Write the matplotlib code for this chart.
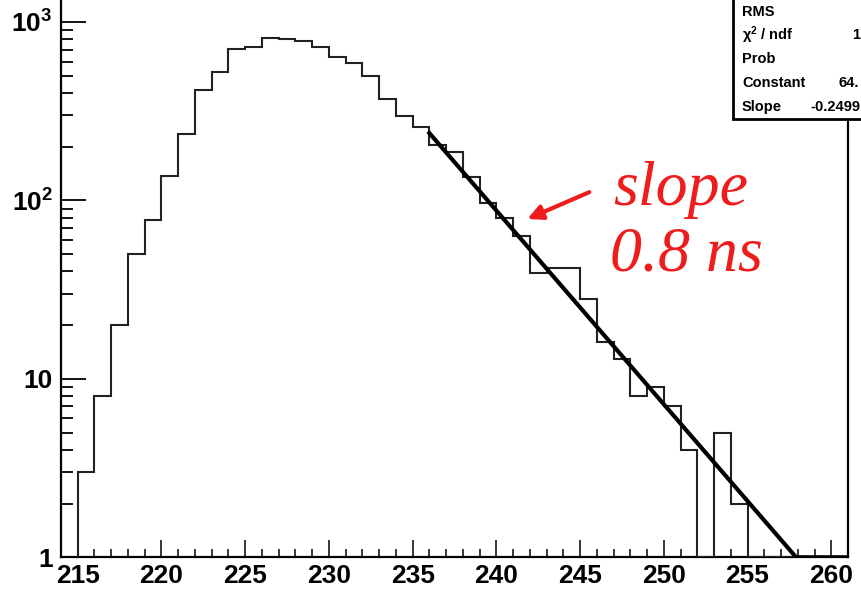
import numpy as np
import matplotlib
matplotlib.use('Agg')
import matplotlib.pyplot as plt
from matplotlib.ticker import FixedLocator, LogLocator, NullFormatter
from matplotlib.patches import Rectangle, FancyArrowPatch

plt.rcParams['font.family'] = 'Liberation Sans'
plt.rcParams['mathtext.fontset'] = 'custom'
plt.rcParams['mathtext.rm'] = 'Liberation Sans:bold'
plt.rcParams['mathtext.bf'] = 'Liberation Sans:bold'
plt.rcParams['mathtext.default'] = 'bf'

# histogram, 1 ns bins from 215 to 261
bin_edges = np.arange(215, 262)
counts = [3, 8, 20, 50, 78, 137, 236, 413, 523, 701,
          725, 809, 801, 781, 722, 637, 590, 501, 368, 298,
          257, 204, 186, 136, 97, 80, 63, 39, 42, 42,
          28, 16, 13, 8, 9, 7, 4, 0, 5, 2,
          0, 0, 0, 0, 0, 0]

# exponential fit  exp(Constant + Slope*x)
fit_const = 64.45
fit_slope = -0.2499
fit_range = (236, 261)

x_ticks = [215, 220, 225, 230, 235, 240, 245, 250, 255, 260]
y_ticks = [1, 10, 100, 1000]
y_labels = ['1', '10', '$10^{2}$', '$10^{3}$']

# stats box, only the part visible in the picture
stats_names = ['RMS', '$\\chi^{2}$ / ndf', 'Prob', 'Constant', 'Slope']
stats_values = ['', '1', '', '64.', '-0.2499']


def draw_hist(ax):
    ymin = 1
    ax.stairs(np.clip(counts, ymin, None), bin_edges, baseline=ymin,
              color='#222222', lw=1.5, zorder=3)


def draw_fit(ax):
    xs = np.linspace(fit_range[0], fit_range[1], 400)
    ys = np.exp(fit_const + fit_slope * xs)
    ax.plot(xs, np.clip(ys, 1, None), color='black', lw=3, zorder=4)


def draw_stats(fig):
    W, H = 862.0, 589.0
    box = Rectangle((733 / W, 1 - 119 / H), 0.3, 0.3, transform=fig.transFigure,
                    facecolor='white', edgecolor='black', lw=2, zorder=10)
    fig.patches.append(box)
    rows_y = [12, 35, 59, 83, 107]
    val_x = [860, 860, 860, 859, 860]
    for name, val, yy, vx in zip(stats_names, stats_values, rows_y, val_x):
        fig.text(742 / W, 1 - yy / H, name, fontsize=10.5, fontweight='bold',
                 va='center', ha='left', zorder=11)
        if val:
            fig.text(vx / W, 1 - yy / H, val, fontsize=10.5, fontweight='bold',
                     va='center', ha='right', zorder=11)


def main():
    fig = plt.figure(figsize=(8.62, 5.89), dpi=100)
    ax = fig.add_axes([61 / 862, 1 - 557.3 / 589, (848 - 61) / 862, 557.3 / 589])

    draw_hist(ax)
    draw_fit(ax)

    ax.set_yscale('log')
    ax.set_xlim(214, 261)
    ax.set_ylim(1, 10 ** 3.123)

    ax.set_xticks(x_ticks)
    ax.set_xticklabels([str(t) for t in x_ticks])
    ax.xaxis.set_minor_locator(FixedLocator(np.arange(215, 261)))
    ax.yaxis.set_major_locator(FixedLocator(y_ticks))
    ax.set_yticklabels(y_labels)
    ax.yaxis.set_minor_locator(LogLocator(base=10, subs=np.arange(2, 10)))
    ax.yaxis.set_minor_formatter(NullFormatter())

    ax.tick_params(axis='x', which='major', direction='in', length=12, width=1.1,
                   labelsize=19, pad=5)
    ax.tick_params(axis='x', which='minor', direction='in', length=5.8, width=1.1)
    ax.tick_params(axis='y', which='major', direction='in', length=18, width=1.3,
                   labelsize=19, pad=6)
    ax.tick_params(axis='y', which='minor', direction='in', length=8.6, width=1.3)
    for lab in ax.get_xticklabels() + ax.get_yticklabels():
        lab.set_fontweight('bold')

    ax.spines['top'].set_visible(False)
    for s in ['left', 'bottom', 'right']:
        ax.spines[s].set_linewidth(1.6)

    # annotation
    ax.text(247.0, 94, 'slope', color='#ee1c1c', fontsize=46, style='italic',
            family='Liberation Serif', ha='left', va='baseline')
    ax.text(246.8, 40.7, '0.8 ns', color='#ee1c1c', fontsize=46, style='italic',
            family='Liberation Serif', ha='left', va='baseline')
    arrow = FancyArrowPatch((245.7, 112.8), (241.7, 77.6), arrowstyle='-|>',
                            mutation_scale=22, color='#ee1c1c', lw=3, zorder=6)
    ax.add_patch(arrow)

    draw_stats(fig)

    fig.savefig('out.png', dpi=100)


if __name__ == '__main__':
    main()
